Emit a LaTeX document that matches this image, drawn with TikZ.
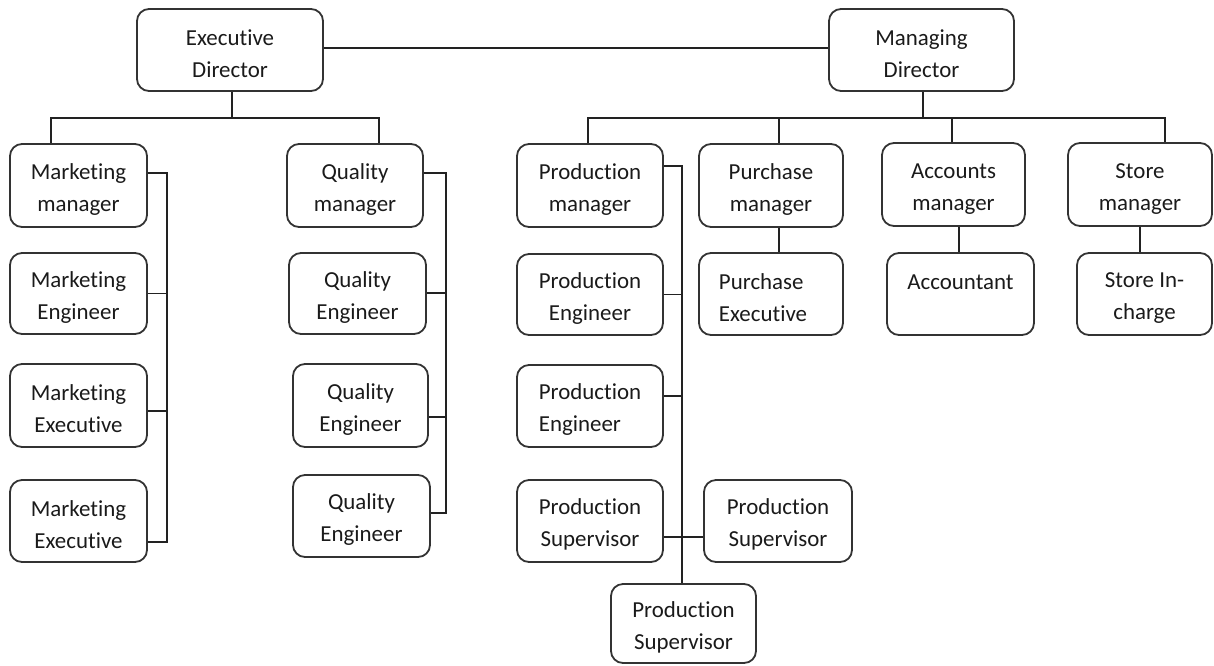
\documentclass[tikz,border=0pt]{standalone}
\usepackage{fontspec}
\setmainfont{Carlito}[Ligatures=NoCommon]
\definecolor{boxc}{HTML}{333333}
\definecolor{linec}{HTML}{222222}
\definecolor{txt}{HTML}{1A1A1A}
\newcommand{\tp}{\rule{0pt}{11.5pt}}
\begin{document}
\begin{tikzpicture}[x=0.5pt,y=-0.5pt,
  box/.style={draw=boxc, line width=0.9pt, rounded corners=6pt, align=center,
    inner sep=0pt, text=txt, font=\fontsize{11.45}{16}\selectfont},
  sz/.style 2 args={minimum width=#1*0.5pt, minimum height=#2*0.5pt},
  conn/.style={draw=linec, line width=0.8pt}]
\useasboundingbox (0,0) rectangle (1214,665);

% top level
\node[box, sz={186}{82}] (ED) at (230,50) {\tp Executive\\Director};
\node[box, sz={185}{82}] (MD) at (921.5,50) {\tp Managing\\Director};

% marketing column
\node[box, sz={137}{83}] (MM)   at (78.5,185.5) {\tp Marketing\\manager};
\node[box, sz={137}{81}] (MEng) at (78.5,293.5) {\tp Marketing\\Engineer};
\node[box, sz={137}{83}] (MX1)  at (78.5,405.5) {\tp Marketing\\Executive};
\node[box, sz={137}{82}] (MX2)  at (78.5,521)   {\tp Marketing\\Executive};

% quality column
\node[box, sz={136}{83}] (QM)  at (355,185.5) {\tp Quality\\manager};
\node[box, sz={137}{81}] (QE1) at (357.5,293.5) {\tp Quality\\Engineer};
\node[box, sz={135}{83}] (QE2) at (360.5,405.5) {\tp Quality\\Engineer};
\node[box, sz={137}{82}] (QE3) at (361.5,516) {\tp Quality\\Engineer};

% production column
\node[box, sz={146}{83}] (PM)  at (590,185.5) {\tp Production\\manager};
\node[box, sz={146}{81}] (PE1) at (590,294.5) {\tp Production\\Engineer};
\node[box, sz={146}{82}, align=left] (PE2) at (590,406) {\tp Production\\Engineer};
\node[box, sz={146}{82}] (PS1) at (590,521) {\tp Production\\Supervisor};
\node[box, sz={148}{82}] (PS2) at (778,521) {\tp Production\\Supervisor};
\node[box, sz={145}{79}] (PS3) at (683.5,623.5) {\tp Production\\Supervisor};

% purchase, accounts, store
\node[box, sz={144}{83}] (PuM) at (771,185.5) {\tp Purchase\\manager};
\node[box, sz={144}{82}, align=left] (PuE) at (771,294) {\tp Purchase\\Executive\hspace*{8pt}};
\node[box, sz={143}{83}] (AM)  at (953.5,184.5) {\tp Accounts\\manager};
\node[box, sz={147}{82}] (Acc) at (960.5,294) {\tp Accountant\\\mbox{}};
\node[box, sz={144}{83}] (SM)  at (1140,184.5) {\tp Store\\manager};
\node[box, sz={135}{82}] (SI)  at (1144.5,294) {\tp Store In-\\charge};

% connectors: top
\draw[conn] ([yshift=1pt]ED.east) -- ([yshift=1pt]MD.west);
\coordinate (edb) at (232,118);
\coordinate (lb) at (51,118);
\coordinate (rb) at (379,118);
\draw[conn] (edb |- ED.south) -- (edb);
\draw[conn] (lb |- MM.north) -- (lb) -- (rb) -- (rb |- QM.north);

% marketing bus
\coordinate (mkb) at (167,542);
\draw[conn] (MM.east |- 0,173) -| (mkb) -- (MX2.east |- mkb);
\draw[conn] (MEng.east) -- (MEng.east -| mkb);
\draw[conn] (MX1.east |- 0,411) -- (mkb |- 0,411);

% quality bus
\coordinate (qb) at (446,513);
\draw[conn] (QM.east |- 0,173) -| (qb) -- (QE3.east |- qb);
\draw[conn] (QE1.east |- 0,293) -- (qb |- 0,293);
\draw[conn] (QE2.east |- 0,417) -- (qb |- 0,417);

% managing director branch
\coordinate (mdb) at (923,118);
\coordinate (pl) at (588,118);
\coordinate (pr) at (1165,118);
\draw[conn] (mdb |- MD.south) -- (mdb);
\draw[conn] (pl |- PM.north) -- (pl) -- (pr) -- (pr |- SM.north);
\coordinate (pus) at (779,118);
\draw[conn] (pus) -- (pus |- PuM.north);
\coordinate (ams) at (952,118);
\draw[conn] (ams) -- (ams |- AM.north);
\draw[conn] (PuM.south -| pus) -- (PuE.north -| pus);
\coordinate (acx) at (959,0);
\draw[conn] (AM.south -| acx) -- (Acc.north -| acx);
\coordinate (six) at (1140,0);
\draw[conn] (SM.south -| six) -- (SI.north -| six);

% production bus
\coordinate (pb) at (682,0);
\draw[conn] (PM.east |- 0,166) -| (pb |- PS3.north);
\draw[conn] (PE1.east) -- (PE1.east -| pb);
\draw[conn] (PE2.east |- 0,396) -- (pb |- 0,396);
\draw[conn] (PS1.east |- 0,537) -- (PS2.west |- 0,537);
\end{tikzpicture}
\end{document}
